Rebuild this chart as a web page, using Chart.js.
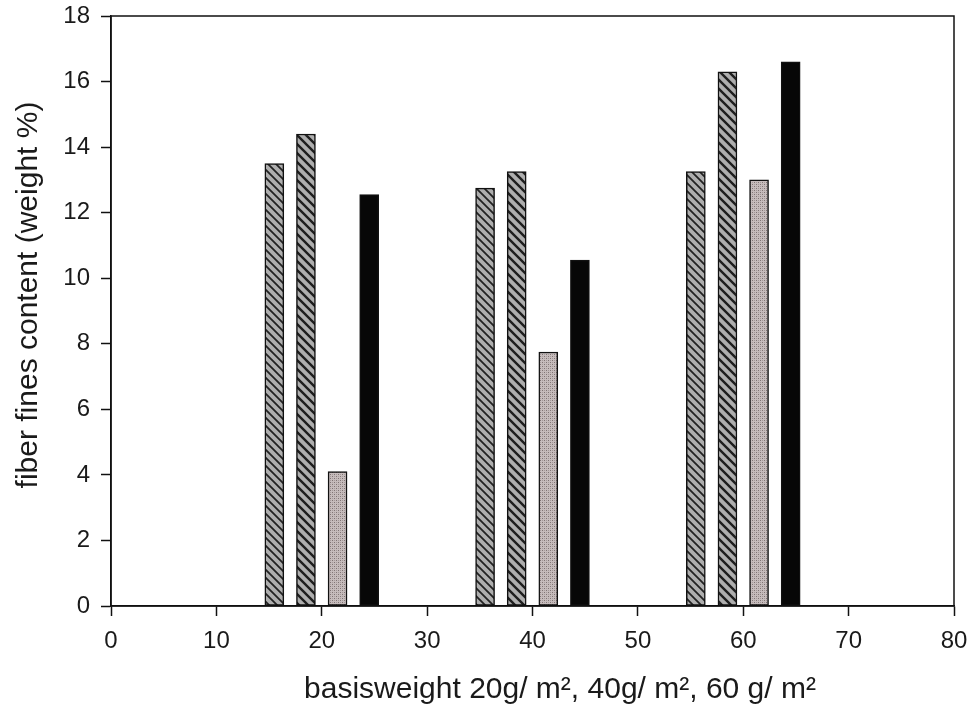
<!DOCTYPE html>
<html>
<head>
<meta charset="utf-8">
<title>Fiber fines content</title>
<script src="https://cdn.jsdelivr.net/npm/chart.js@4/dist/chart.umd.min.js"></script>
<style>
  html, body { margin: 0; padding: 0; background: #fff; }
  #wrap { width: 973px; height: 709px; }
</style>
</head>
<body>
<div id="wrap"><canvas id="c" width="973" height="709"></canvas></div>
<script>
// Basis weight positions (x) and fines content (weight %) for each of the four series
const xSeries1 = [15.5, 35.5, 55.5];
const ySeries1 = [13.5, 12.75, 13.25];
const xSeries2 = [18.5, 38.5, 58.5];
const ySeries2 = [14.4, 13.25, 16.3];
const xSeries3 = [21.5, 41.5, 61.5];
const ySeries3 = [4.1, 7.75, 13.0];
const xSeries4 = [24.5, 44.5, 64.5];
const ySeries4 = [12.55, 10.55, 16.6];

const xTickValues = [0, 10, 20, 30, 40, 50, 60, 70, 80];
const yTickValues = [0, 2, 4, 6, 8, 10, 12, 14, 16, 18];

const xTitle = 'basisweight 20g/ m\u00B2, 40g/ m\u00B2, 60 g/ m\u00B2';
const yTitle = 'fiber fines content (weight %)';

const FONT = '"Liberation Sans", Arial, Helvetica, sans-serif';

// Diagonal hatch fill (lines running top-left to bottom-right)
function hatch(size, lineW, bg, fg) {
  const cv = document.createElement('canvas');
  cv.width = size; cv.height = size;
  const g = cv.getContext('2d');
  g.fillStyle = bg; g.fillRect(0, 0, size, size);
  g.strokeStyle = fg; g.lineWidth = lineW;
  g.beginPath();
  g.moveTo(-1, -1); g.lineTo(size + 1, size + 1);
  g.moveTo(-2, size - 2); g.lineTo(2, size + 2);
  g.moveTo(size - 2, -2); g.lineTo(size + 2, 2);
  g.stroke();
  return g.createPattern(cv, 'repeat');
}

// Fine stipple fill
function stipple() {
  const cv = document.createElement('canvas');
  cv.width = 4; cv.height = 4;
  const g = cv.getContext('2d');
  g.fillStyle = '#c6bcbc'; g.fillRect(0, 0, 4, 4);
  g.fillStyle = '#807474';
  g.fillRect(0, 0, 1, 1); g.fillRect(2, 2, 1, 1);
  g.fillStyle = '#a49999';
  g.fillRect(2, 0, 1, 1); g.fillRect(0, 2, 1, 1);
  return g.createPattern(cv, 'repeat');
}

const toPoints = (xs, ys) => xs.map((x, i) => ({ x: x, y: ys[i] }));

// Box around the plot area
const frame = {
  id: 'frame',
  afterDatasetsDraw(chart) {
    const a = chart.chartArea, ctx = chart.ctx;
    ctx.save();
    ctx.strokeStyle = '#111';
    ctx.lineWidth = 1.5;
    ctx.strokeRect(a.left, a.top, a.right - a.left, a.bottom - a.top);
    ctx.restore();
  }
};

// Axis titles
const titles = {
  id: 'titles',
  afterDraw(chart) {
    const ctx = chart.ctx;
    ctx.save();
    ctx.fillStyle = '#1a1a1a';
    ctx.font = '30px ' + FONT;
    ctx.textAlign = 'center';
    ctx.textBaseline = 'alphabetic';
    ctx.fillText(xTitle, 560, 698);
    ctx.translate(37, 295);
    ctx.rotate(-Math.PI / 2);
    ctx.fillText(yTitle, 0, 0);
    ctx.restore();
  }
};

const barCommon = {
  borderColor: '#111',
  borderWidth: 1.5,
  borderSkipped: false,
  barThickness: 19,
  grouped: false
};

new Chart(document.getElementById('c'), {
  type: 'bar',
  data: {
    datasets: [
      Object.assign({ label: 'series 1', data: toPoints(xSeries1, ySeries1),
        backgroundColor: hatch(8, 1.8, '#aeaeae', '#222') }, barCommon),
      Object.assign({ label: 'series 2', data: toPoints(xSeries2, ySeries2),
        backgroundColor: hatch(9, 2.4, '#aeaeae', '#1e1e1e') }, barCommon),
      Object.assign({ label: 'series 3', data: toPoints(xSeries3, ySeries3),
        backgroundColor: stipple() }, barCommon),
      Object.assign({ label: 'series 4', data: toPoints(xSeries4, ySeries4),
        backgroundColor: '#070707' }, barCommon)
    ]
  },
  options: {
    responsive: false,
    animation: false,
    layout: { padding: { left: 0, top: 16, right: 19, bottom: 0 } },
    plugins: { legend: { display: false }, tooltip: { enabled: false } },
    scales: {
      x: {
        type: 'linear',
        offset: false,
        min: 0, max: 80,
        afterBuildTicks: s => { s.ticks = xTickValues.map(v => ({ value: v })); },
        afterFit: s => { s.height = 103; s.paddingLeft = 0; s.paddingRight = 0; },
        grid: { offset: false, drawOnChartArea: false, drawTicks: true, tickLength: 10, tickColor: '#111', tickWidth: 1.5 },
        border: { display: true, color: '#111', width: 1.5 },
        ticks: { color: '#1a1a1a', font: { family: FONT, size: 24 }, padding: 11, maxRotation: 0, autoSkip: false }
      },
      y: {
        min: 0, max: 18,
        afterBuildTicks: s => { s.ticks = yTickValues.map(v => ({ value: v })); },
        afterFit: s => { s.width = 111; s.paddingTop = 0; s.paddingBottom = 0; },
        grid: { drawOnChartArea: false, drawTicks: true, tickLength: 10, tickColor: '#111', tickWidth: 1.5 },
        border: { display: true, color: '#111', width: 1.5 },
        ticks: { color: '#1a1a1a', font: { family: FONT, size: 24 }, padding: 11, autoSkip: false }
      }
    }
  },
  plugins: [frame, titles]
});
</script>
</body>
</html>
